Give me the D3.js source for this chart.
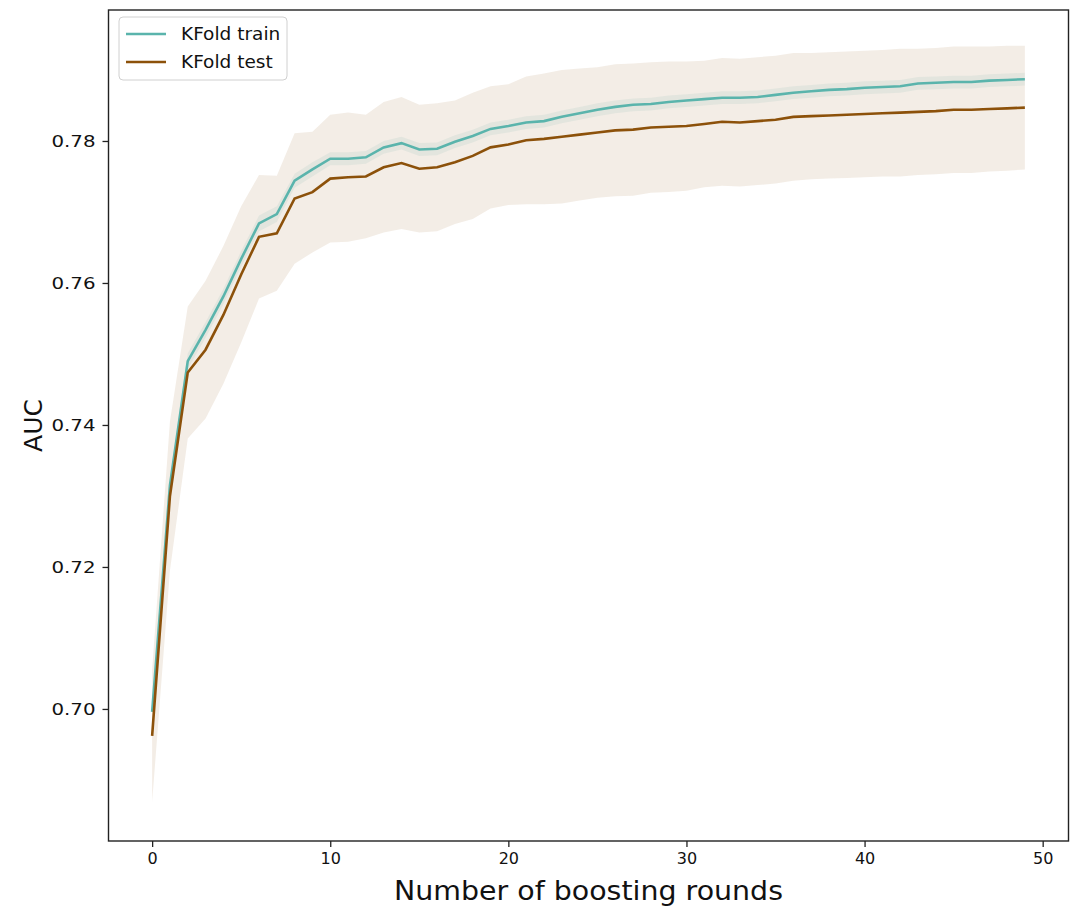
<!DOCTYPE html>
<html lang="en">
	<head>
		<meta charset="UTF-8" />
		<title>AUC vs boosting rounds</title>
		<style>
			html,
			body {
				margin: 0;
				padding: 0;
				background-color: #fff;
				font-family: 'DejaVu Sans', sans-serif;
			}
			svg {
				display: block;
			}
		</style>
	</head>
	<body>
		<svg id="chart"></svg>

		<script src="https://d3js.org/d3.v7.min.js"></script>

		<script>
			const width = 1074;
			const height = 911;

			// values
			const trainMean = [
				0.6996, 0.7315, 0.749, 0.7534, 0.7581, 0.7634, 0.7684, 0.7697, 0.7744, 0.776,
				0.7775, 0.7775, 0.7777, 0.7791, 0.7797, 0.7788, 0.7789, 0.7799, 0.7807, 0.7817,
				0.7821, 0.7826, 0.7828, 0.7834, 0.7839, 0.7844, 0.7848, 0.7851, 0.7852, 0.7855,
				0.7857, 0.7859, 0.7861, 0.7861, 0.7862, 0.7865, 0.7868, 0.787, 0.7872, 0.7873,
				0.7875, 0.7876, 0.7877, 0.7881, 0.7882, 0.7883, 0.7883, 0.7885, 0.7886, 0.7887
			];
			const trainStd = [
				0.0003, 0.0008, 0.0011, 0.0011, 0.0011, 0.0011, 0.0011, 0.0011, 0.001, 0.001,
				0.0009, 0.0009, 0.0009, 0.0009, 0.0009, 0.0009, 0.0009, 0.0009, 0.0009, 0.0009,
				0.0009, 0.0009, 0.0009, 0.0009, 0.0009, 0.0009, 0.0009, 0.0009, 0.0009, 0.0009,
				0.0009, 0.0009, 0.0009, 0.0009, 0.0009, 0.0009, 0.0009, 0.0009, 0.0009, 0.0009,
				0.0009, 0.0009, 0.0009, 0.0009, 0.0009, 0.0009, 0.0009, 0.0009, 0.0009, 0.0009
			];
			const testMean = [
				0.6962, 0.73, 0.7474, 0.7506, 0.7555, 0.7612, 0.7665, 0.767, 0.7719, 0.7728,
				0.7747, 0.7749, 0.775, 0.7763, 0.7769, 0.7761, 0.7763, 0.777, 0.7779, 0.7791,
				0.7795, 0.7801, 0.7803, 0.7806, 0.7809, 0.7812, 0.7815, 0.7816, 0.7819, 0.782,
				0.7821, 0.7824, 0.7827, 0.7826, 0.7828, 0.783, 0.7834, 0.7835, 0.7836, 0.7837,
				0.7838, 0.7839, 0.784, 0.7841, 0.7842, 0.7844, 0.7844, 0.7845, 0.7846, 0.7847
			];
			const testStd = [
				0.0093, 0.0105, 0.0093, 0.0097, 0.0097, 0.0096, 0.0087, 0.0081, 0.0092, 0.0085,
				0.009, 0.0091, 0.0087, 0.0092, 0.0093, 0.009, 0.009, 0.0087, 0.0089, 0.0086,
				0.0085, 0.009, 0.0092, 0.0094, 0.0093, 0.0092, 0.0093, 0.0093, 0.0092, 0.0092,
				0.0091, 0.0089, 0.009, 0.009, 0.009, 0.009, 0.009, 0.0089, 0.0089, 0.0089,
				0.0089, 0.0089, 0.009, 0.0089, 0.0089, 0.0089, 0.0089, 0.0088, 0.0088, 0.0087
			];
			const xTicks = [0, 10, 20, 30, 40, 50];
			const yTicks = [0.7, 0.72, 0.74, 0.76, 0.78];
			const seriesNames = ['KFold train', 'KFold test'];

			const trainColor = '#5ab4ac';
			const testColor = '#8c510a';

			const margin = { left: 108.5, right: 1068.5, top: 10, bottom: 841 };

			const x = d3.scaleLinear().domain([-2.45, 51.45]).range([margin.left, margin.right]);
			const y = d3.scaleLinear().domain([0.6814, 0.79845]).range([margin.bottom, margin.top]);

			const svg = d3.select('#chart').attr('width', width).attr('height', height);

			const rounds = d3.range(trainMean.length);

			const area = (mean, std) =>
				d3
					.area()
					.x((i) => x(i))
					.y0((i) => y(mean[i] - std[i]))
					.y1((i) => y(mean[i] + std[i]));

			const line = (mean) =>
				d3
					.line()
					.x((i) => x(i))
					.y((i) => y(mean[i]));

			const plot = svg.append('g');

			plot.append('path')
				.datum(rounds)
				.attr('d', area(trainMean, trainStd))
				.attr('fill', trainColor)
				.attr('fill-opacity', 0.1);

			plot.append('path')
				.datum(rounds)
				.attr('d', area(testMean, testStd))
				.attr('fill', testColor)
				.attr('fill-opacity', 0.1);

			plot.append('path')
				.datum(rounds)
				.attr('d', line(trainMean))
				.attr('fill', 'none')
				.attr('stroke', trainColor)
				.attr('stroke-width', 2.6);

			plot.append('path')
				.datum(rounds)
				.attr('d', line(testMean))
				.attr('fill', 'none')
				.attr('stroke', testColor)
				.attr('stroke-width', 2.6);

			// axes
			const xAxis = svg
				.append('g')
				.attr('transform', `translate(0,${margin.bottom})`)
				.call(d3.axisBottom(x).tickValues(xTicks).tickSize(6).tickPadding(6).tickFormat(d3.format('d')));

			const yAxis = svg
				.append('g')
				.attr('transform', `translate(${margin.left},0)`)
				.call(d3.axisLeft(y).tickValues(yTicks).tickSize(6).tickPadding(7).tickFormat(d3.format('.2f')));

			[xAxis, yAxis].forEach((g) => {
				g.select('.domain').remove();
				g.selectAll('.tick line').attr('stroke', '#222').attr('stroke-width', 1.3);
				g.selectAll('.tick text')
					.attr('fill', '#111')
					.style('font-family', "'DejaVu Sans', sans-serif")
					.style('font-size', '16px');
			});
			// the y labels are drawn wider in the reference
			yAxis.selectAll('.tick text').attr('textLength', 44).attr('lengthAdjust', 'spacingAndGlyphs');

			// frame
			svg.append('rect')
				.attr('x', margin.left)
				.attr('y', margin.top)
				.attr('width', margin.right - margin.left)
				.attr('height', margin.bottom - margin.top)
				.attr('fill', 'none')
				.attr('stroke', '#222')
				.attr('stroke-width', 1.4);

			svg.append('text')
				.attr('x', (margin.left + margin.right) / 2)
				.attr('y', 900)
				.attr('text-anchor', 'middle')
				.attr('textLength', 389)
				.attr('lengthAdjust', 'spacingAndGlyphs')
				.style('font-size', '26px')
				.attr('fill', '#111')
				.text('Number of boosting rounds');

			svg.append('text')
				.attr('transform', `translate(42,${(margin.top + margin.bottom) / 2}) rotate(-90)`)
				.attr('text-anchor', 'middle')
				.style('font-size', '25px')
				.attr('fill', '#111')
				.text('AUC');

			// legend
			const legend = svg.append('g').attr('transform', 'translate(119,17)');
			legend
				.append('rect')
				.attr('width', 168)
				.attr('height', 63)
				.attr('rx', 4)
				.attr('fill', '#fff')
				.attr('fill-opacity', 0.8)
				.attr('stroke', '#d0d0d0');

			[trainColor, testColor].forEach((c, i) => {
				const row = legend.append('g').attr('transform', `translate(0,${17 + i * 28})`);
				row.append('line')
					.attr('x1', 7)
					.attr('x2', 47)
					.attr('stroke', c)
					.attr('stroke-width', 2.6);
				row.append('text')
					.attr('x', 62)
					.attr('dy', '0.35em')
					.style('font-size', '18.5px')
					.attr('fill', '#111')
					.text(seriesNames[i]);
			});
		</script>
	</body>
</html>
